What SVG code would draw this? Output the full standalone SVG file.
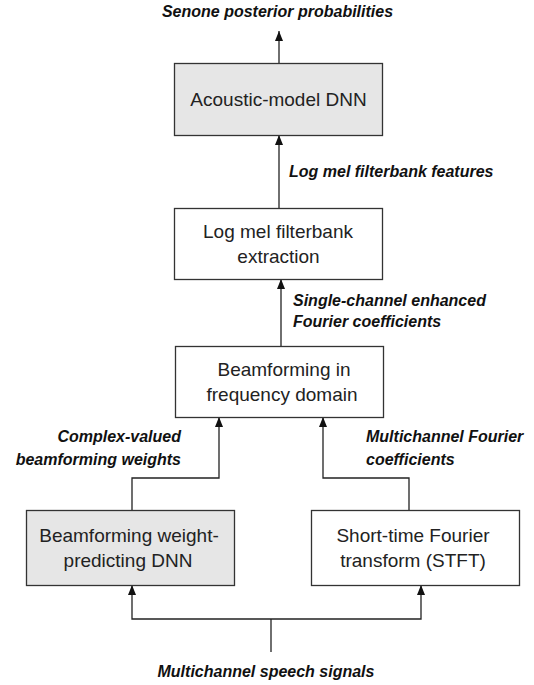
<svg xmlns="http://www.w3.org/2000/svg" width="534" height="685" viewBox="0 0 534 685">
  <style>
    .box { stroke: #333333; stroke-width: 1.3; fill: #ffffff; }
    .shaded { fill: #e6e6e6; }
    .node-text { font-family: "Liberation Sans", Arial, sans-serif; font-size: 19px; fill: #222222; text-anchor: middle; }
    .label { font-family: "Liberation Sans", Arial, sans-serif; font-size: 16px; font-weight: bold; font-style: italic; fill: #111111; }
    .wire { fill: none; stroke: #222222; stroke-width: 1.3; }
    .arrow { marker-end: url(#head); }
  </style>
  <defs>
    <marker id="head" viewBox="0 0 10 8" refX="10" refY="4" markerWidth="10" markerHeight="8" markerUnits="userSpaceOnUse" orient="auto">
      <path d="M0,0 L10,4 L0,8 Z" fill="#111111"/>
    </marker>
  </defs>

  <rect width="534" height="685" fill="#ffffff"/>

  <!-- connectors -->
  <g id="connectors">
    <line class="wire arrow" x1="279" y1="63" x2="279" y2="31"/>
    <line class="wire arrow" x1="279" y1="208" x2="279" y2="135"/>
    <line class="wire arrow" x1="281" y1="346" x2="281" y2="279"/>
    <polyline class="wire arrow" points="132,510 132,478 219,478 219,417"/>
    <polyline class="wire arrow" points="409,510 409,478 323,478 323,417"/>
    <line class="wire" x1="271" y1="652" x2="271" y2="619"/>
    <polyline class="wire arrow" points="271,619 132,619 132,585"/>
    <polyline class="wire arrow" points="271,619 421,619 421,585"/>
  </g>

  <g id="acoustic-dnn">
    <rect class="box shaded" x="174.5" y="63.5" width="208" height="72"/>
    <text class="node-text" x="278.5" y="106">Acoustic-model DNN</text>
  </g>

  <g id="logmel">
    <rect class="box" x="174.5" y="208.5" width="208" height="71"/>
    <text class="node-text" x="278" y="238">Log mel filterbank</text>
    <text class="node-text" x="278.5" y="263">extraction</text>
  </g>

  <g id="beamforming">
    <rect class="box" x="175.5" y="346.5" width="208" height="71"/>
    <text class="node-text" x="284" y="376">Beamforming in</text>
    <text class="node-text" x="282" y="401">frequency domain</text>
  </g>

  <g id="weight-dnn">
    <rect class="box shaded" x="26.5" y="510.5" width="208" height="75"/>
    <text class="node-text" x="129" y="542">Beamforming weight-</text>
    <text class="node-text" x="128" y="567">predicting DNN</text>
  </g>

  <g id="stft">
    <rect class="box" x="311.5" y="510.5" width="208" height="75"/>
    <text class="node-text" x="413" y="542">Short-time Fourier</text>
    <text class="node-text" x="413" y="567">transform (STFT)</text>
  </g>

  <g id="labels">
    <text class="label" x="277.5" y="17" text-anchor="middle">Senone posterior probabilities</text>
    <text class="label" x="289" y="177">Log mel filterbank features</text>
    <text class="label" x="293" y="306">Single-channel enhanced</text>
    <text class="label" x="293" y="327">Fourier coefficients</text>
    <text class="label" x="181" y="442" text-anchor="end">Complex-valued</text>
    <text class="label" x="181" y="465" text-anchor="end">beamforming weights</text>
    <text class="label" x="366" y="442">Multichannel Fourier</text>
    <text class="label" x="366" y="465">coefficients</text>
    <text class="label" x="266" y="677" text-anchor="middle">Multichannel speech signals</text>
  </g>
</svg>
